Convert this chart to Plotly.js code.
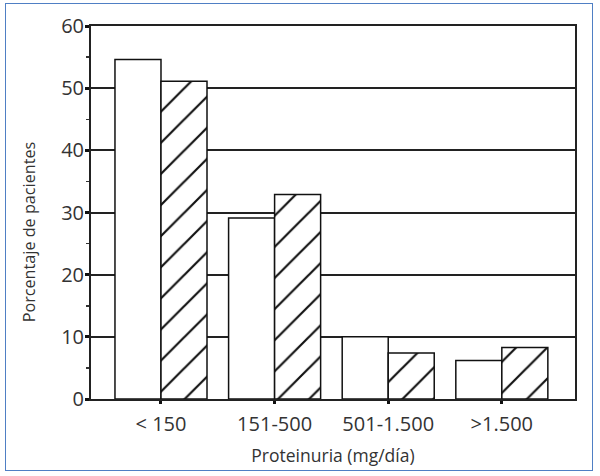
<!DOCTYPE html>
<html>
<head>
<meta charset="utf-8">
<script src="https://cdn.plot.ly/plotly-3.0.1.min.js"></script>
<style>
  body { margin: 0; padding: 0; background: #fff; }
  #wrap { position: relative; width: 600px; height: 476px; }
  #chart { width: 600px; height: 476px; }
  #frame { position: absolute; left: 5px; top: 3px; width: 586px; height: 466px;
           border: 1.5px solid #4f7fc4; pointer-events: none; }
</style>
</head>
<body>
<div id="wrap">
  <div id="chart"></div>
  <div id="frame"></div>
</div>
<script>
const categories = ["< 150", "151-500", "501-1.500", ">1.500"];
const seriesA = [54.6, 29.1, 10.0, 6.2];   // white bars
const seriesB = [51.1, 32.9, 7.4, 8.3];    // hatched bars
const yTicks = [0, 10, 20, 30, 40, 50, 60];
const yTitle = "Porcentaje de pacientes";
const xTitle = "Proteinuria (mg/día)";

const font = "Open Sans, Noto Sans, sans-serif";

const traces = [
  {
    type: "bar", x: categories, y: seriesA, name: "A",
    marker: { color: "white", line: { color: "#111", width: 1.5 } },
    hoverinfo: "none"
  },
  {
    type: "bar", x: categories, y: seriesB, name: "B",
    marker: {
      color: "white",
      line: { color: "#111", width: 1.5 },
      pattern: { shape: "/", fgcolor: "#111", bgcolor: "white", size: 22, solidity: 0.1 }
    },
    hoverinfo: "none"
  }
];

const layout = {
  width: 600, height: 476,
  margin: { l: 91, r: 25, t: 26, b: 77 },
  paper_bgcolor: "white", plot_bgcolor: "white",
  showlegend: false,
  barmode: "group",
  bargap: 0.19, bargroupgap: 0,
  font: { family: font, color: "#333" },
  xaxis: {
    type: "category",
    range: [-0.616, 3.644],
    showline: true, linecolor: "#222", linewidth: 2, mirror: true,
    showgrid: false, zeroline: false,
    ticks: "outside", ticklen: 3, tickwidth: 3, tickcolor: "#111",
    ticklabelstandoff: 3,
    tickfont: { family: font, size: 20, color: "#333" },
    title: { text: xTitle, font: { family: font, size: 17.5, color: "#333" }, standoff: 14 },
    automargin: false
  },
  yaxis: {
    range: [0, 60],
    tickvals: yTicks,
    ticktext: yTicks.map(String),
    showline: true, linecolor: "#222", linewidth: 2, mirror: true,
    showgrid: true, gridcolor: "#222", gridwidth: 2,
    zeroline: false,
    ticks: "outside", ticklen: 4, tickwidth: 3, tickcolor: "#111",
    minor: { tickvals: [5, 15, 25, 35, 45, 55], ticks: "outside", ticklen: 3, tickwidth: 1.5, tickcolor: "#333", showgrid: false },
    ticklabelstandoff: -3,
    tickfont: { family: font, size: 20, color: "#333" },
    automargin: false
  },
  annotations: [
    {
      text: yTitle, xref: "paper", yref: "paper",
      x: -0.128, y: 0.447, xanchor: "center", yanchor: "middle",
      textangle: -90, showarrow: false,
      font: { family: font, size: 16.2, color: "#333" }
    }
  ]
};

Plotly.newPlot("chart", traces, layout, { displayModeBar: false, staticPlot: true });
</script>
</body>
</html>
